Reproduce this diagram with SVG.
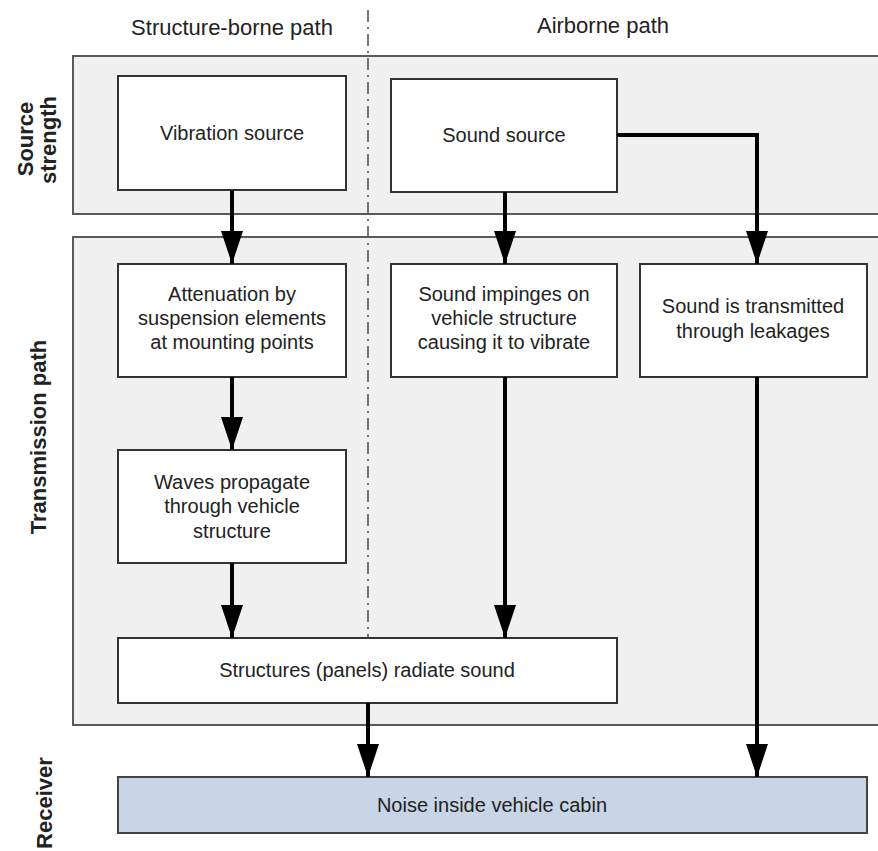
<svg xmlns="http://www.w3.org/2000/svg" width="878" height="851" viewBox="0 0 878 851">
<defs>
<style>
.band{fill:#f0f0f0;stroke:#5a5a5a;stroke-width:2}
.box{fill:#ffffff;stroke:#333333;stroke-width:2}
.rx{fill:#c8d5e6;stroke:#444444;stroke-width:2}
.t{font-family:"Liberation Sans",Arial,sans-serif;font-size:20px;fill:#222;text-anchor:middle}
.h{font-family:"Liberation Sans",Arial,sans-serif;font-size:22px;fill:#222;text-anchor:middle}
.s{font-family:"Liberation Sans",Arial,sans-serif;font-size:22px;font-weight:bold;fill:#222;text-anchor:middle}
.c{fill:none;stroke:#000;stroke-width:4}
.dd{fill:none;stroke:#555;stroke-width:1.6;stroke-dasharray:12 5 2 5}
</style>
<marker id="ah" markerUnits="userSpaceOnUse" markerWidth="34" markerHeight="24" refX="33" refY="12" orient="auto" viewBox="0 0 34 24">
<path d="M0,1 L33,12 L0,23 z" fill="#000"/>
</marker>
</defs>
<rect width="878" height="851" fill="#ffffff"/>
<g id="bands">
<rect class="band" x="73" y="56" width="806" height="158"/>
<rect class="band" x="73" y="237" width="806" height="488"/>
</g>
<g id="labels">
<text class="h" x="232" y="35">Structure-borne path</text>
<text class="h" x="603" y="33">Airborne path</text>
<text class="s" transform="translate(33,139) rotate(-90)">Source</text>
<text class="s" transform="translate(56,140) rotate(-90)">strength</text>
<text class="s" transform="translate(46,437) rotate(-90)">Transmission path</text>
<text class="s" transform="translate(52,803) rotate(-90)">Receiver</text>
</g>
<path id="divider" class="dd" d="M368,10 V638"/>
<g id="n-vibration"><rect class="box" x="118" y="76" width="228" height="114"/><text class="t" x="232" y="140">Vibration source</text></g>
<g id="n-sound"><rect class="box" x="391" y="79" width="226" height="113"/><text class="t" x="504" y="142">Sound source</text></g>
<g id="n-atten"><rect class="box" x="118" y="264" width="228" height="113"/>
<text class="t" x="232" y="301">Attenuation by</text><text class="t" x="232" y="325">suspension elements</text><text class="t" x="232" y="349">at mounting points</text></g>
<g id="n-impinge"><rect class="box" x="391" y="264" width="226" height="113"/>
<text class="t" x="504" y="301">Sound impinges on</text><text class="t" x="504" y="325">vehicle structure</text><text class="t" x="504" y="349">causing it to vibrate</text></g>
<g id="n-leak"><rect class="box" x="640" y="264" width="227" height="113"/>
<text class="t" x="753" y="313">Sound is transmitted</text><text class="t" x="753" y="338">through leakages</text></g>
<g id="n-waves"><rect class="box" x="118" y="450" width="228" height="113"/>
<text class="t" x="232" y="489">Waves propagate</text><text class="t" x="232" y="513">through vehicle</text><text class="t" x="232" y="538">structure</text></g>
<g id="n-struct"><rect class="box" x="118" y="638" width="499" height="65"/><text class="t" x="367" y="677">Structures (panels) radiate sound</text></g>
<g id="n-noise"><rect class="rx" x="118" y="777" width="749" height="56"/><text class="t" x="492" y="812">Noise inside vehicle cabin</text></g>
<g id="connectors">
<path class="c" d="M232,190 V264" marker-end="url(#ah)"/>
<path class="c" d="M505,192 V264" marker-end="url(#ah)"/>
<path class="c" d="M617,135 H757 V264" marker-end="url(#ah)"/>
<path class="c" d="M232,377 V450" marker-end="url(#ah)"/>
<path class="c" d="M232,563 V638" marker-end="url(#ah)"/>
<path class="c" d="M505,377 V638" marker-end="url(#ah)"/>
<path class="c" d="M368,703 V777" marker-end="url(#ah)"/>
<path class="c" d="M757,377 V777" marker-end="url(#ah)"/>
</g>
</svg>
